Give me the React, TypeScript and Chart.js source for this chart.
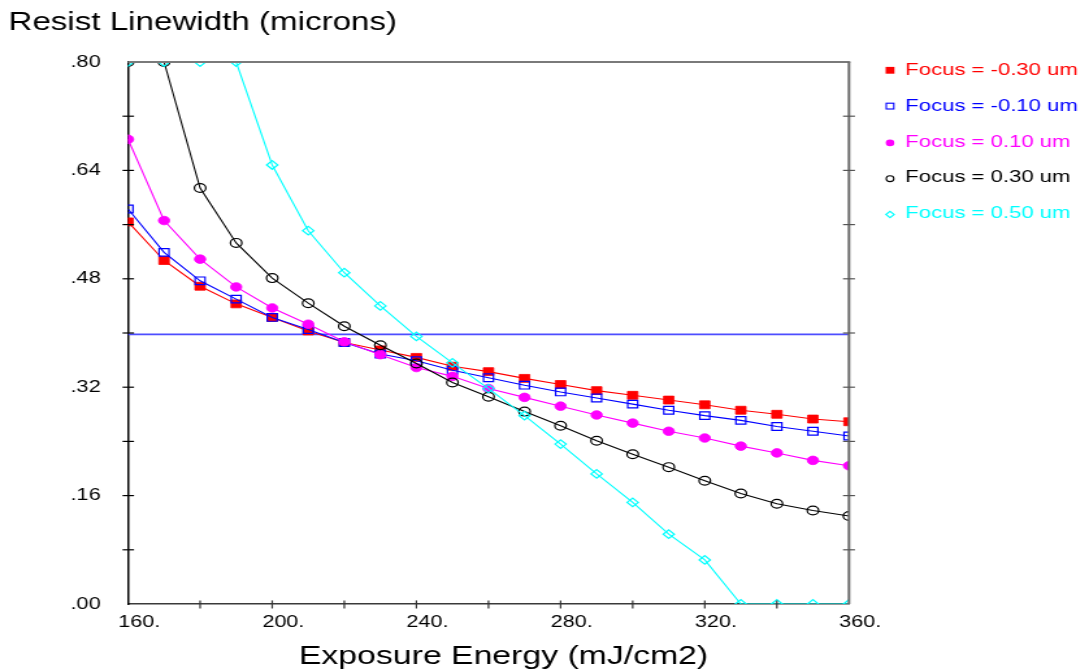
import React, { useEffect, useRef } from 'react';
import { Chart, registerables } from 'chart.js';

Chart.register(...registerables);

// ---------- data ----------
const exposureEnergy = [160, 170, 180, 190, 200, 210, 220, 230, 240, 250, 260, 270, 280, 290, 300, 310, 320, 330, 340, 350, 360];

const seriesLabels = ['Focus = -0.30 um', 'Focus = -0.10 um', 'Focus = 0.10 um', 'Focus = 0.30 um', 'Focus = 0.50 um'];

const linewidthFocusM030 = [0.564, 0.507, 0.469, 0.443, 0.423, 0.403, 0.386, 0.375, 0.364, 0.351, 0.343, 0.333, 0.324, 0.315, 0.308, 0.301, 0.294, 0.286, 0.280, 0.273, 0.269];
const linewidthFocusM010 = [0.583, 0.519, 0.477, 0.450, 0.423, 0.405, 0.386, 0.369, 0.359, 0.345, 0.334, 0.323, 0.313, 0.304, 0.295, 0.286, 0.278, 0.271, 0.262, 0.255, 0.248];
const linewidthFocusP010 = [0.686, 0.566, 0.509, 0.468, 0.437, 0.413, 0.387, 0.368, 0.349, 0.336, 0.318, 0.305, 0.292, 0.279, 0.267, 0.255, 0.245, 0.233, 0.223, 0.212, 0.204];
const linewidthFocusP030 = [0.80, 0.80, 0.614, 0.533, 0.481, 0.444, 0.410, 0.382, 0.355, 0.327, 0.306, 0.284, 0.263, 0.241, 0.221, 0.202, 0.182, 0.163, 0.148, 0.138, 0.130];
const linewidthFocusP050 = [0.80, 0.80, 0.80, 0.80, 0.648, 0.551, 0.489, 0.440, 0.395, 0.356, 0.318, 0.278, 0.236, 0.192, 0.150, 0.103, 0.065, 0.0, 0.0, 0.0, 0.0];

const targetLinewidth = 0.398;

const xTickValues = [160, 200, 240, 280, 320, 360];
const yTickValues = [0, 0.16, 0.32, 0.48, 0.64, 0.80];
const xMarkValues = [180, 200, 220, 240, 260, 280, 300, 320, 340];
const yMarkValues = [0.08, 0.16, 0.24, 0.32, 0.40, 0.48, 0.56, 0.64, 0.72];

const chartTitle = 'Resist Linewidth (microns)';
const xAxisTitle = 'Exposure Energy (mJ/cm2)';

// ---------- styles ----------
const seriesColors = ['#ff0000', '#0000ff', '#ff00ff', '#000000', '#00ffff'];
const seriesPointStyles = ['rect', 'rect', 'circle', 'circle', 'rectRot'];
const seriesFilled = [true, false, true, false, false];
const seriesRadius = [5.6, 5.4, 4.3, 4.4, 4.3];

const W = 838;
const H = 672;
const SX = 1089 / W;
const FONT = '"Liberation Sans", Arial, Helvetica, sans-serif';

const seriesValues = [linewidthFocusM030, linewidthFocusM010, linewidthFocusP010, linewidthFocusP030, linewidthFocusP050];

const framePlugin = {
  id: 'frameTicks',
  afterDraw(chart: any) {
    const { ctx, chartArea: a, scales } = chart;
    const x = scales.x;
    const y = scales.y;
    ctx.save();
    ctx.strokeStyle = '#7a7a7a';
    ctx.lineWidth = 1.8;
    ctx.beginPath();
    ctx.moveTo(a.left, a.top);
    ctx.lineTo(a.right + 1, a.top);
    ctx.stroke();
    ctx.strokeStyle = '#6a6a6a';
    ctx.lineWidth = 2;
    ctx.beginPath();
    ctx.moveTo(a.right, a.top);
    ctx.lineTo(a.right, a.bottom);
    ctx.stroke();

    ctx.lineWidth = 1.2;
    yMarkValues.forEach((v) => {
      const py = y.getPixelForValue(v);
      ctx.strokeStyle = '#000';
      ctx.beginPath();
      ctx.moveTo(a.left - 4.2, py);
      ctx.lineTo(a.left + 4.6, py);
      ctx.stroke();
      ctx.strokeStyle = '#555';
      ctx.beginPath();
      ctx.moveTo(a.right - 4.6, py);
      ctx.lineTo(a.right + 4.6, py);
      ctx.stroke();
    });
    ctx.strokeStyle = '#333';
    xMarkValues.forEach((v) => {
      const px = x.getPixelForValue(v);
      ctx.beginPath();
      ctx.moveTo(px, a.bottom - 3.6);
      ctx.lineTo(px, a.bottom + 4.5);
      ctx.stroke();
    });

    // x axis title
    ctx.fillStyle = '#000';
    ctx.font = `26px ${FONT}`;
    ctx.textAlign = 'center';
    ctx.textBaseline = 'alphabetic';
    ctx.fillText(xAxisTitle, 387.5, 663.5);
    ctx.restore();
  },
};

const legendPlugin = {
  id: 'sideLegend',
  afterDraw(chart: any) {
    const { ctx } = chart;
    const mx = 684.9;
    const tx = 696.6;
    ctx.save();
    ctx.font = `17px ${FONT}`;
    ctx.textBaseline = 'middle';
    ctx.textAlign = 'left';
    seriesLabels.forEach((label, i) => {
      const cy = 70.3 + i * 35.8;
      const c = seriesColors[i];
      const st = seriesPointStyles[i];
      ctx.fillStyle = c;
      ctx.strokeStyle = c;
      ctx.lineWidth = 1.1;
      ctx.beginPath();
      if (st === 'rect') {
        const s = 3.4;
        if (seriesFilled[i]) {
          ctx.fillRect(mx - s, cy - s, 2 * s, 2 * s);
        } else {
          ctx.strokeRect(mx - s + 0.5, cy - s + 0.5, 2 * s - 1, 2 * s - 1);
        }
      } else if (st === 'circle') {
        const r = seriesFilled[i] ? 3.3 : 2.9;
        ctx.arc(mx, cy + 1, r, 0, Math.PI * 2);
        if (seriesFilled[i]) ctx.fill();
        else ctx.stroke();
      } else {
        const r = 3.2;
        ctx.moveTo(mx - r, cy + 1);
        ctx.lineTo(mx, cy + 1 - r);
        ctx.lineTo(mx + r, cy + 1);
        ctx.lineTo(mx, cy + 1 + r);
        ctx.closePath();
        ctx.stroke();
      }
      ctx.fillStyle = c;
      ctx.fillText(label, tx, cy);
    });
    ctx.restore();
  },
};

export default function App() {
  const ref = useRef<HTMLCanvasElement>(null);

  useEffect(() => {
    if (!ref.current) return;

    const datasets: any[] = seriesValues.map((vals, i) => ({
      label: seriesLabels[i],
      data: exposureEnergy.map((e, k) => ({ x: e, y: vals[k] })),
      borderColor: seriesColors[i],
      backgroundColor: seriesFilled[i] ? seriesColors[i] : 'rgba(0,0,0,0)',
      pointBackgroundColor: seriesFilled[i] ? seriesColors[i] : 'rgba(0,0,0,0)',
      pointBorderColor: seriesColors[i],
      pointBorderWidth: seriesFilled[i] ? 0.8 : 1.2,
      pointStyle: seriesPointStyles[i],
      pointRadius: seriesRadius[i],
      borderWidth: 1.1,
      tension: 0,
      clip: 0,
      order: 5 - i,
    }));

    datasets.push({
      label: 'target',
      data: [
        { x: exposureEnergy[0], y: targetLinewidth },
        { x: exposureEnergy[exposureEnergy.length - 1], y: targetLinewidth },
      ],
      borderColor: '#4d4dff',
      borderWidth: 1.6,
      pointRadius: 0,
      clip: 0,
      order: 10,
    });

    const chart = new Chart(ref.current, {
      type: 'line',
      data: { datasets },
      options: {
        animation: false,
        responsive: false,
        events: [],
        layout: { padding: { left: 6.5, right: W - 653.3, top: 0, bottom: 0 } },
        plugins: {
          legend: { display: false },
          tooltip: { enabled: false },
          title: {
            display: true,
            text: chartTitle,
            align: 'start',
            color: '#000',
            font: { family: FONT, size: 25.5, weight: 'normal' },
            padding: { top: 7.6, bottom: 23.8 },
          },
        },
        scales: {
          x: {
            type: 'linear',
            min: 160,
            max: 360,
            grid: { display: false, drawTicks: false },
            border: { display: true, color: '#3a3a3a', width: 1.5 },
            afterBuildTicks: (scale: any) => {
              scale.ticks = xTickValues.map((v) => ({ value: v }));
            },
            afterFit: (scale: any) => {
              scale.height = H - 604;
            },
            ticks: {
              color: '#000',
              font: { family: FONT, size: 16.6 },
              padding: 8.5,
              labelOffset: 8.6,
              maxRotation: 0,
              autoSkip: false,
              callback: (v: any) => `${v}.`,
            },
            title: { display: false },
          },
          y: {
            type: 'linear',
            min: 0,
            max: 0.8,
            grid: { display: false, drawTicks: false },
            border: { display: true, color: '#000', width: 1.5 },
            afterBuildTicks: (scale: any) => {
              scale.ticks = yTickValues.map((v) => ({ value: v }));
            },
            afterFit: (scale: any) => {
              scale.width = 98.5 - 6.5;
            },
            ticks: {
              color: '#000',
              font: { family: FONT, size: 16.8 },
              padding: 21,
              autoSkip: false,
              callback: (v: any) => Number(v).toFixed(2).replace(/^0/, ''),
            },
          },
        },
      } as any,
      plugins: [framePlugin, legendPlugin],
    });

    return () => chart.destroy();
  }, []);

  return (
    <div
      style={{
        position: 'absolute',
        left: 0,
        top: 0,
        width: W,
        height: H,
        transform: `scaleX(${SX})`,
        transformOrigin: '0 0',
      }}
    >
      <canvas ref={ref} width={W} height={H} style={{ display: 'block', width: W, height: H }} />
    </div>
  );
}
